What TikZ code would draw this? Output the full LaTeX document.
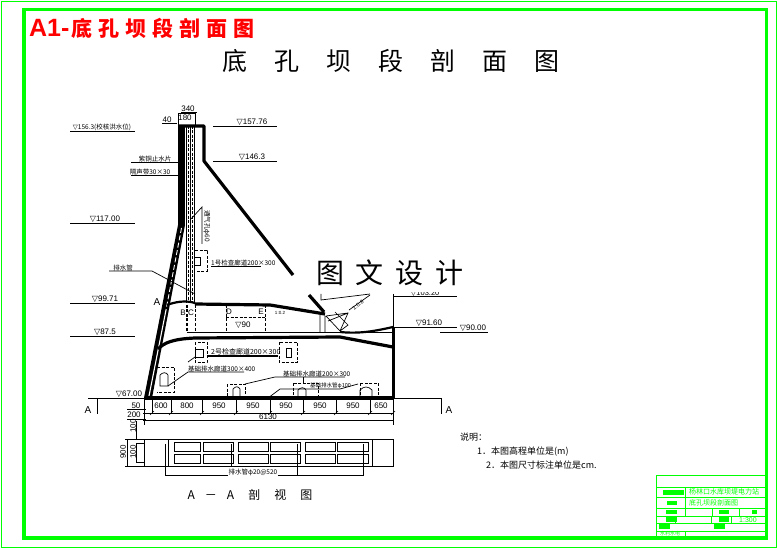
\documentclass[tikz,border=0pt]{standalone}
\usepackage{fontspec}
\setmainfont{Liberation Sans}
\newfontfamily\cjk{Noto Sans CJK SC}
\newfontfamily\dvs{DejaVu Sans}
\newcommand{\trimark}{{\dvs ▽}}
\usetikzlibrary{calc}
\definecolor{gr}{RGB}{0,255,0}
\tikzset{
 thinl/.style={line width=0.7pt,black},
 thick2/.style={line width=2.2pt,black,line join=round},
 thick3/.style={line width=3.2pt,black,line join=round},
 dash2/.style={line width=0.6pt,black,dash pattern=on 3pt off 1.5pt},
 lab/.style={inner sep=0pt,font=\fontsize{6.5}{7}\selectfont\cjk,text=black},
 dim/.style={inner sep=0pt,font=\fontsize{8}{8}\selectfont,text=black},
 frameg/.style={draw=gr,line width=#1},
}
\begin{document}
\begin{tikzpicture}[x=1pt,y=-1pt]
\useasboundingbox[fill=white] (0,0) rectangle (777,548);
% frames
\draw[frameg=1pt] (1.5,1.5) rectangle (776,547);
\draw[frameg=3.6pt] (24,9.5) rectangle (766.5,538);
% titles
\node[inner sep=0pt,anchor=west,text=red,font=\fontsize{25}{26}\selectfont\bfseries] (ttl) at (29,28) {A1-\hspace{2pt}\fontsize{21}{22}\selectfont\cjk 底\hspace{6pt}孔\hspace{6pt}坝\hspace{6pt}段\hspace{6pt}剖\hspace{6pt}面\hspace{6pt}图};
\node[inner sep=0pt,font=\fontsize{25}{26}\selectfont\cjk] (main) at (391,61) {底\hspace{27pt}孔\hspace{27pt}坝\hspace{27pt}段\hspace{27pt}剖\hspace{27pt}面\hspace{27pt}图};
% downstream face and crest
\draw[thick3] (178,126) -- (204,126) -- (204,161) -- (293,275);
\draw[thick3] (309,295) -- (324,312);
% upstream wall
\fill[black] (178,125) rectangle (185,226);
\fill[black] (178,225) -- (185,225) -- (152,398) -- (144,398) -- cycle;
\draw[white,line width=0.9pt,dash pattern=on 5pt off 2.5pt] (181.5,228) -- (166,310);
\draw[white,line width=1.1pt] (166,310) -- (149,396);
% shaft
\foreach \xx in {186,190,194} \draw[thinl] (\xx,125) -- (\xx,303);
\draw[dash2] (192,126) -- (192,303);
\draw[dash2] (188,126) -- (188,303);
% crest dims
\draw[thinl] (178,113) rectangle (195,125);
\node[dim] (d340) at (188,109) {340};
\draw[thinl] (181,112.5) -- (197,112.5);
\node[dim] (d40) at (167,120) {40};
\draw[thinl] (162,123) -- (177,123);
\node[dim] (d180) at (185,118) {180};
% level marks left
\coordinate (l1a) at (70,131); \coordinate (l1b) at (135,131);
\draw[thinl] (l1a) -- (l1b);
\node[lab,anchor=south] at (102,131) {\trimark 156.3(校核洪水位)};
\draw[thinl] (70,223) -- (135,223);
\node[dim,anchor=south] at (105,223) {\trimark 117.00};
\draw[thinl] (70,303) -- (135,303);
\node[dim,anchor=south] at (105,303) {\trimark 99.71};
\draw[thinl] (70,336) -- (135,336);
\node[dim,anchor=south] at (105,336) {\trimark 87.5};
\draw[thinl] (131,162) -- (178,162);
\node[lab,anchor=south] at (155,162) {紫铜止水片};
\draw[thinl] (131,175) -- (178,175);
\node[lab,anchor=south] at (150,175) {隔声带30×30};
\draw[thinl] (213,126) -- (277,126);
\node[dim,anchor=south] at (252,126) {\trimark 157.76};
\draw[thinl] (213,161) -- (277,161);
\node[dim,anchor=south] at (252,161) {\trimark 146.3};
% discharge pipe
\draw[thinl] (109,271) -- (152,271) -- (195,294);
\node[lab,anchor=south] at (123,271) {排水管};
% vertical label
\draw[thinl] (191,219) -- (202,207) -- (202,244);
\node[lab,rotate=-90] at (207,226) {通气孔φ60};
% gallery 1
\draw[dash2] (195,250) -- (207,250) -- (207,271) -- (195,271);
\draw[thinl] (195,257) -- (200,257) -- (200,265) -- (195,265);
\draw[thinl] (211,266) -- (261,266);
\node[lab,anchor=south west] at (211,266) {1号检查廊道200×300};
% upper deck
\draw[thick2] (167,305) .. controls (175,302) and (185,300) .. (195,303);
\draw[thick3] (195,304) -- (270,305) -- (325,314);
\draw[thinl] (187,332) -- (393,332);
% gates
\draw[dash2,line width=1.2pt] (187,305) -- (187,332);
\draw[dash2] (195,305) -- (195,332);
\draw[dash2] (226,305) -- (226,332);
\draw[dash2] (265,305) -- (265,332);
\draw[dash2] (226,317) -- (265,317);
\node[dim] at (183,313) {B};
\node[dim] at (191,313) {C};
\node[dim] at (229,312) {D};
\node[dim] at (261,312) {E};
\node[dim] at (243,325) {\trimark 90};
\node[lab,font=\fontsize{4.5}{5}\selectfont] at (280,313) {1:0.2};
\node[dim,font=\fontsize{10}{11}\selectfont] at (157,302) {A};
% spillway bucket
\draw[thick2] (340,332) .. controls (360,334) and (375,331) .. (393,327);
\draw[thinl] (320,315) -- (320,332) (326,316) -- (340,331) -- (348,313) -- (326,316) (335,312) -- (348,325) -- (340,331) (328,321) -- (348,313) (325,316) -- (325,332);
\draw[thinl] (321,294) -- (321,300) -- (370,294);
\draw[thinl] (349,310) -- (370,295);
\node[lab,font=\fontsize{5.5}{6}\selectfont,rotate=35] at (358,305) {1:0.8};
\draw[thinl] (393,294) -- (393,327);
\draw[thinl] (393,296) -- (457,296);
\node[lab,anchor=south,font=\fontsize{7.5}{8}\selectfont] at (425,297) {\trimark 103.20};
\draw[thinl] (393,327) -- (457,327);
\node[dim,anchor=south] at (429,327) {\trimark 91.60};
\draw[thinl] (440,332) -- (488,332);
\node[dim,anchor=south] at (473,332) {\trimark 90.00};
% watermark mask and text
\fill[white] (300,256) rectangle (470,292);
\node[inner sep=0pt,font=\fontsize{28}{29}\selectfont\cjk] (wm) at (390,273) {图\hspace{12pt}文\hspace{12pt}设\hspace{12pt}计};
% lower deck
\draw[thick3] (158,349) .. controls (164,343) and (172,339) .. (195,338) -- (340,337) -- (393,347);
% right wall
\draw[line width=3pt] (393,327) -- (393,398);
% base
\draw[line width=3.4pt] (145,398) -- (393,398);
\draw[thinl] (88,398) -- (145,398);
\draw[thinl] (393,398) -- (441,398) -- (441,414);
\draw[thinl] (97,398) -- (97,414);
\node[dim,font=\fontsize{10}{11}\selectfont] at (88,410) {A};
\node[dim,font=\fontsize{10}{11}\selectfont] at (449,410) {A};
\node[dim,anchor=south] at (129,398) {\trimark 67.00};
% gallery 2
\draw[dash2] (195,342) rectangle (207,362);
\draw[thinl] (195,349) rectangle (203,357);
\draw[dash2] (279,342) rectangle (297,362);
\draw[thinl] (286,348) -- (286,357) -- (291,357) -- (291,348) -- cycle;
\draw[thinl] (188,362) -- (195,357);
\draw[thick2] (207,356) -- (278,356);
\node[lab,anchor=south west,font=\fontsize{7}{7}\selectfont\cjk] at (211,355) {2号检查廊道200×300};
% drainage gallery
\draw[dash2] (157,367) -- (174,367) -- (174,392) -- (157,392);
\draw[thinl] (160,386) -- (160,375) .. controls (163,372) and (166,372) .. (168,375) -- (168,386) -- cycle;
\draw[thinl] (168,386) -- (188,372) -- (244,372);
\node[lab,anchor=south west] at (188,372) {基础排水廊道300×400};
% base galleries
\draw[dash2] (227,384) rectangle (245,398);
\draw[thinl] (233,398) -- (233,389) .. controls (236,386) and (238,386) .. (240,389) -- (240,398);
\draw[thinl] (245,384) -- (275,377) -- (345,377);
\node[lab,anchor=south west] at (283,377) {基础排水廊道200×300};
\draw[dash2] (293,383) rectangle (318,398);
\draw[thinl] (298,398) -- (298,390) .. controls (301,387) and (304,387) .. (306,390) -- (306,398);
\draw[thinl] (303,377) -- (303,383);
\draw[dash2] (360,383) rectangle (378,398);
\draw[thinl] (360,398) -- (360,390) .. controls (364,386) and (368,386) .. (372,390) -- (372,398);
\draw[thinl] (268,398) -- (280,389) -- (340,389) -- (358,384);
\node[lab,anchor=south west,font=\fontsize{5.5}{6}\selectfont\cjk] at (310,389) {基础排水管φ100};
% dims
\foreach \xx in {152,171,202,236,270,303,336,370,393}
  \draw[thinl] (\xx,398) -- (\xx,414);
\foreach \xx/\lb in {161/600,187/800,219/950,253/950,286/950,320/950,353/950,381/650}
  \node[dim] at (\xx,406) {\lb};
\draw[thinl] (143,413) -- (393,413);
\foreach \xx in {152,171,202,236,270,303,336,370,393}
  \draw[thinl] (\xx-2,415) -- (\xx+2,411);
\draw[thinl] (143,420) -- (393,420);
\draw[thinl] (393,398) -- (393,425);
\draw[thinl] (144,398) -- (144,425);
\node[dim] (d6130) at (268,417) {6130};
\node[dim] at (136,406) {50};
\draw[thinl] (127,409) -- (146,409);
\node[dim] at (134,415) {200};
\draw[thinl] (127,419) -- (146,419);
\draw[thinl] (136,421) -- (136,440);
\node[dim,rotate=90] at (133,426) {100};
% section A-A
\draw[thinl] (144,439) rectangle (393,466);
\draw[thinl] (125,439) -- (144,439) (125,466) -- (144,466);
\draw[thinl] (127,439) -- (127,466) (136,443) -- (136,462);
\node[dim,rotate=90] at (123,452) {900};
\node[dim,rotate=90] at (133,452) {100};
\draw[thinl] (136,443) -- (144,443) (136,462) -- (144,462);
\draw[thinl] (168,439) -- (168,466) (372,439) -- (372,466);
\draw[thinl] (165,444) -- (165,475) -- (363,475) -- (363,444);
\draw[thinl] (297,466) -- (297,475) (231,444) -- (231,466) (297,444) -- (297,466);
\foreach \xa/\xb in {174/200.5,203/233,238/268,270/300,305/335,337/368} {
  \draw[thinl] (\xa,442) rectangle (\xb,451);
  \draw[thinl] (\xa,454) rectangle (\xb,463);
}
\node[lab,fill=white,inner sep=0.5pt] at (253,472) {排水管φ20@520};
\node[inner sep=0pt,font=\fontsize{12}{13}\selectfont\cjk] (sec) at (250,495) {A\hspace{10pt}－\hspace{10pt}A\hspace{14pt}剖\hspace{14pt}视\hspace{14pt}图};
% notes
\node[inner sep=0pt,anchor=west,font=\fontsize{9}{9}\selectfont\cjk] at (460,437) {说明：};
\node[inner sep=0pt,anchor=west,font=\fontsize{9}{9}\selectfont\cjk] at (477,452) {1．本图高程单位是(m)};
\node[inner sep=0pt,anchor=west,font=\fontsize{9}{9}\selectfont\cjk] at (486,465) {2．本图尺寸标注单位是cm.};
% title block
\draw[gr,line width=1pt] (656,475) rectangle (765,537);
\foreach \yy in {487,497,508,516,523,531} \draw[gr,line width=1pt] (656,\yy) -- (765,\yy);
\draw[gr,line width=1pt] (685,487) -- (685,516);
\draw[gr,line width=1pt] (712,508) -- (712,516) (739,508) -- (739,516);
\draw[gr,line width=1pt] (675,516) -- (675,523) (711,516) -- (711,523) (731,516) -- (731,523);
\draw[gr,line width=1pt] (685,531) -- (685,537);
\fill[gr] (663,490) rectangle (684,495);
\fill[gr] (667,501) rectangle (677,505);
\fill[gr] (666,510) rectangle (677,514);
\fill[gr] (666,517) rectangle (677,522);
\fill[gr] (659,524) rectangle (670,529);
\fill[gr] (719,510) rectangle (729,514);
\fill[gr] (719,517) rectangle (729,522);
\fill[gr] (714,524) rectangle (725,529);
\fill[gr] (752,510) rectangle (757,514);
\node[lab,text=gr,anchor=west,font=\fontsize{7}{7}\selectfont\cjk] at (689,492) {杨林口水库坝堤电力站};
\node[lab,text=gr,anchor=west,font=\fontsize{7}{7}\selectfont\cjk] at (689,503) {底孔坝段剖面图};
\node[lab,text=gr,font=\fontsize{7}{7}\selectfont] at (748,520) {1:300};
\node[lab,text=gr,font=\fontsize{5}{5}\selectfont\cjk] at (670,534) {水利水电};
\end{tikzpicture}
\end{document}
